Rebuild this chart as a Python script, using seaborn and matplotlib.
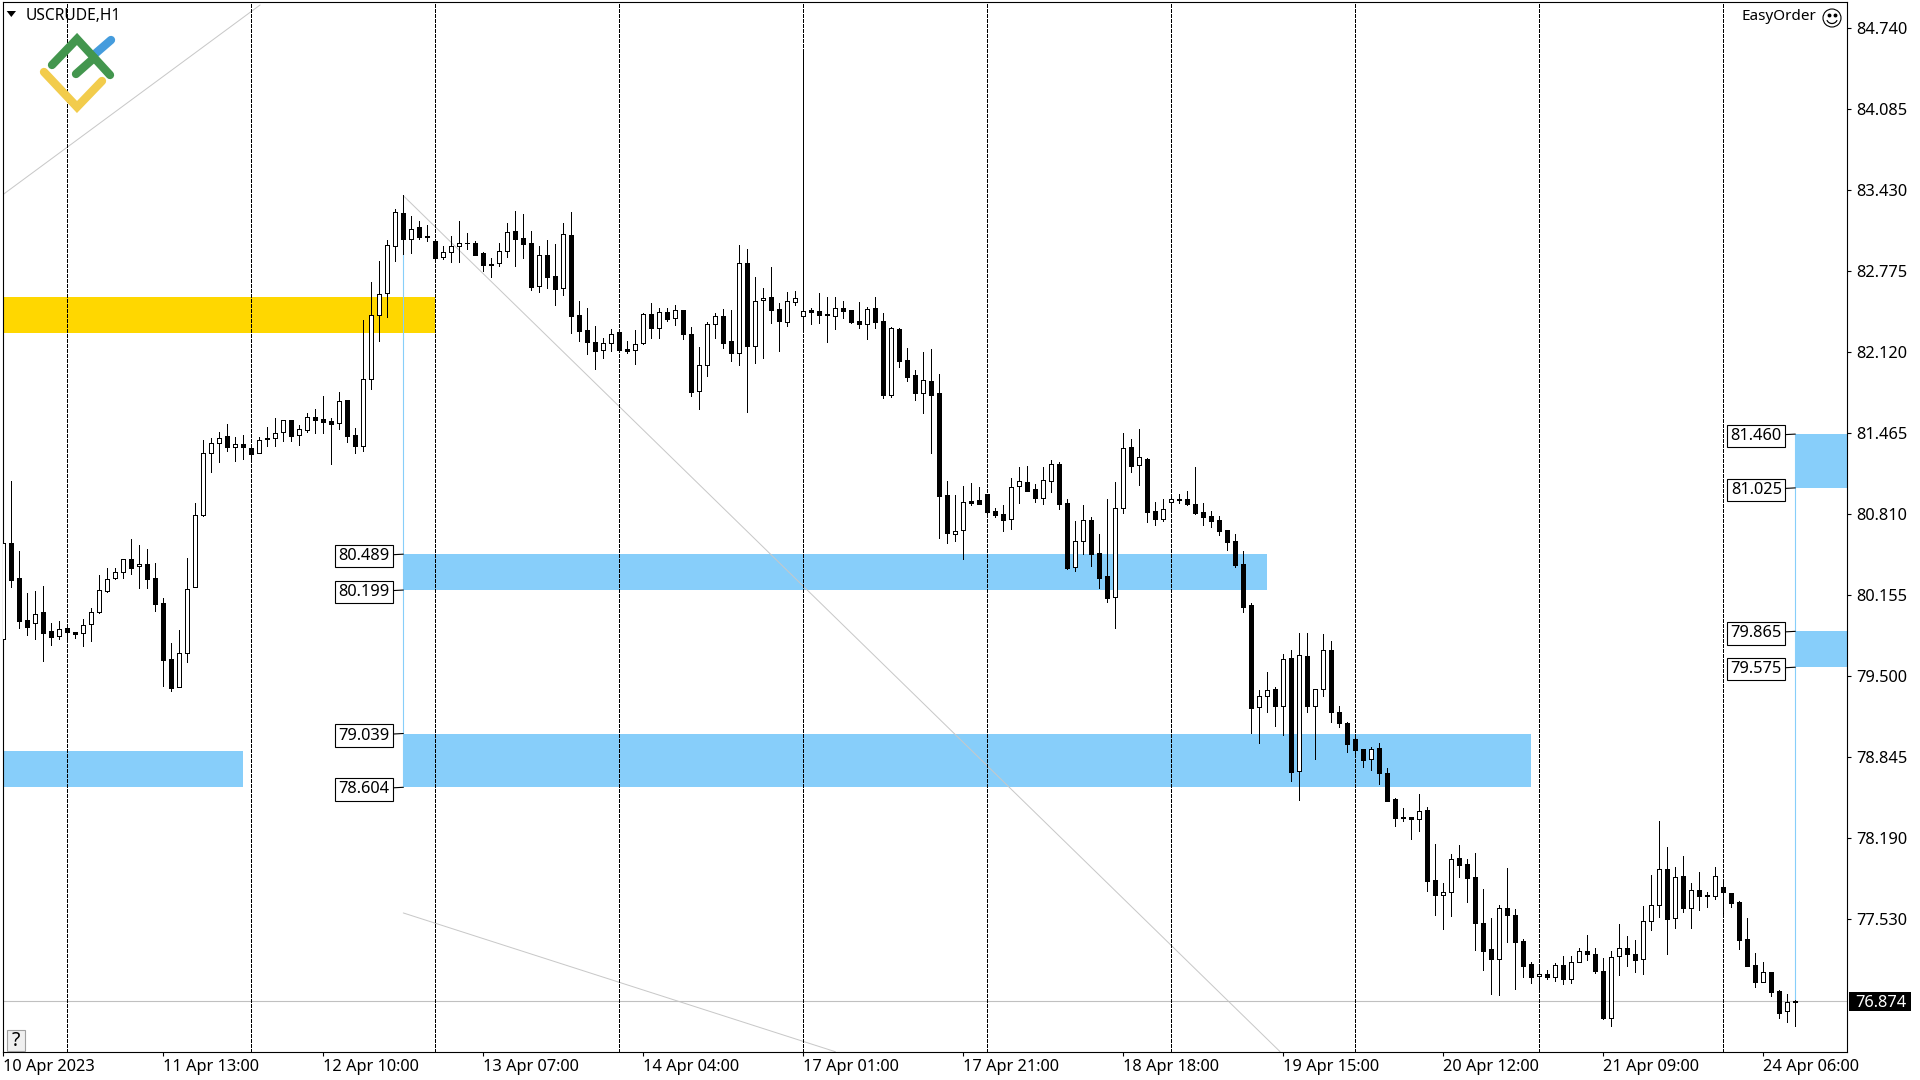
import pandas as pd
import numpy as np
import matplotlib.pyplot as plt
from matplotlib.patches import Rectangle, Polygon, Circle
import seaborn as sns

sns.set_theme(style="white")
plt.rcParams['font.family'] = ['Noto Sans', 'DejaVu Sans']

# W = close above open (hollow), B = close below open (filled)
candle_dir = ("WBBBWBBWBB" "WWWWWWBWBB" "BBWWWWWWBW" "BBWWWWBWWB" "BBWBBWWWWW"
              "BWBBBWWWWB" "BBWWBBBWBB" "WBBBBWWBBW" "WBWBWBBWWW" "BBWBWWBBWW"
              "WBBBWBBBWB" "BWBBBWBBBW" "WBBBBBWWBB" "WWBBWWBBBW" "WBWBBWWWBB"
              "BBBBBBBWWB" "WBWBWWBBBB" "BWBBBBBWBB" "WWBBBBBWBB" "BBWBWBWWBB"
              "BWWBBWWWBW" "BWBBWBBBBB" "WBBWB")

highs = [80.828, 81.081, 80.512, 80.173, 80.189, 80.230, 79.930, 79.947, 79.903, 79.858,
         79.963, 80.054, 80.318, 80.378, 80.375, 80.448, 80.609, 80.561, 80.529, 80.415,
         80.132, 79.771, 79.876, 80.456, 80.901, 81.410, 81.426, 81.475, 81.542, 81.434,
         81.450, 81.359, 81.434, 81.515, 81.588, 81.572, 81.572, 81.534, 81.628, 81.663,
         81.770, 81.588, 81.800, 81.734, 81.507, 82.383, 82.688, 82.860, 83.027, 83.278,
         83.394, 83.221, 83.181, 83.148, 83.022, 82.981, 83.060, 83.181, 83.084, 83.019,
         82.930, 82.882, 83.003, 83.165, 83.262, 83.240, 83.100, 82.981, 83.027, 82.995,
         83.165, 83.254, 82.534, 82.477, 82.332, 82.235, 82.308, 82.283, 82.211, 82.300,
         82.437, 82.518, 82.477, 82.477, 82.502, 82.461, 82.324, 82.162, 82.364, 82.437,
         82.469, 82.464, 82.987, 82.954, 82.728, 82.642, 82.809, 82.517, 82.606, 82.615,
         84.566, 82.480, 82.598, 82.566, 82.566, 82.534, 82.461, 82.526, 82.485, 82.566,
         82.437, 82.323, 82.315, 82.154, 81.976, 82.121, 82.146, 81.943, 81.078, 80.965,
         81.038, 81.062, 81.030, 80.976, 80.860, 80.884, 81.103, 81.192, 81.200, 81.054,
         81.192, 81.248, 81.232, 80.933, 80.755, 80.884, 80.787, 80.650, 80.933, 81.070,
         81.466, 81.418, 81.499, 81.264, 80.908, 80.933, 80.949, 80.973, 80.997, 81.191,
         80.900, 80.836, 80.795, 80.682, 80.650, 80.512, 80.092, 79.388, 79.534, 79.413,
         79.679, 79.712, 79.849, 79.849, 79.396, 79.841, 79.785, 79.259, 79.130, 79.014,
         78.911, 78.928, 78.960, 78.758, 78.516, 78.435, 78.362, 78.548, 78.443, 78.144,
         77.828, 78.063, 78.136, 78.022, 78.071, 77.780, 77.545, 77.651, 77.950, 77.618,
         77.376, 77.190, 77.141, 77.125, 77.182, 77.238, 77.238, 77.303, 77.408, 77.303,
         77.222, 77.279, 77.497, 77.400, 77.368, 77.643, 77.893, 78.330, 78.120, 77.958,
         78.047, 77.828, 77.917, 77.756, 77.958, 77.828, 77.748, 77.683, 77.545, 77.262,
         77.189, 77.108, 76.962, 76.930, 76.882]

body_tops = [80.583, 80.577, 80.294, 79.955, 80.009, 80.019, 79.866, 79.882, 79.890, 79.858,
             79.920, 80.025, 80.197, 80.291, 80.343, 80.448, 80.448, 80.407, 80.407, 80.294,
             80.092, 79.639, 79.693, 80.211, 80.809, 81.305, 81.391, 81.431, 81.442, 81.378,
             81.378, 81.345, 81.410, 81.431, 81.472, 81.572, 81.572, 81.499, 81.596, 81.596,
             81.580, 81.564, 81.725, 81.734, 81.450, 81.903, 82.421, 82.596, 82.987, 83.254,
             83.245, 83.122, 83.132, 83.060, 83.022, 82.930, 82.979, 83.003, 83.006, 83.003,
             82.922, 82.833, 82.938, 83.092, 83.100, 83.043, 83.003, 82.906, 82.906, 82.736,
             83.076, 83.068, 82.421, 82.300, 82.203, 82.200, 82.273, 82.283, 82.146, 82.192,
             82.429, 82.429, 82.450, 82.445, 82.467, 82.461, 82.267, 82.017, 82.348, 82.413,
             82.413, 82.211, 82.841, 82.841, 82.534, 82.558, 82.566, 82.469, 82.534, 82.558,
             82.453, 82.464, 82.453, 82.431, 82.477, 82.480, 82.461, 82.372, 82.469, 82.477,
             82.372, 82.315, 82.307, 82.057, 81.935, 81.895, 81.887, 81.790, 80.965, 80.674,
             80.909, 80.917, 80.925, 80.973, 80.836, 80.812, 81.030, 81.078, 81.070, 81.014,
             81.086, 81.216, 81.216, 80.900, 80.593, 80.763, 80.763, 80.496, 80.310, 80.860,
             81.345, 81.353, 81.272, 81.256, 80.836, 80.852, 80.933, 80.933, 80.933, 80.892,
             80.827, 80.795, 80.763, 80.682, 80.593, 80.407, 80.076, 79.340, 79.388, 79.396,
             79.639, 79.647, 79.671, 79.663, 79.396, 79.712, 79.712, 79.210, 79.122, 78.992,
             78.911, 78.911, 78.919, 78.717, 78.508, 78.362, 78.362, 78.411, 78.419, 77.853,
             77.761, 78.022, 78.031, 77.982, 77.877, 77.505, 77.295, 77.626, 77.626, 77.570,
             77.360, 77.174, 77.093, 77.093, 77.165, 77.165, 77.190, 77.279, 77.279, 77.254,
             77.117, 77.230, 77.303, 77.303, 77.254, 77.521, 77.651, 77.942, 77.942, 77.877,
             77.885, 77.772, 77.772, 77.731, 77.885, 77.796, 77.748, 77.675, 77.375, 77.165,
             77.108, 77.108, 76.954, 76.865, 76.876]

body_bottoms = [79.801, 80.281, 79.952, 79.903, 79.930, 79.855, 79.823, 79.825, 79.858, 79.847,
                79.849, 79.922, 80.025, 80.189, 80.294, 80.343, 80.380, 80.391, 80.291, 80.089,
                79.637, 79.410, 79.418, 79.688, 80.221, 80.809, 81.305, 81.386, 81.359, 81.353,
                81.359, 81.302, 81.305, 81.418, 81.426, 81.475, 81.448, 81.450, 81.491, 81.577,
                81.561, 81.545, 81.547, 81.448, 81.367, 81.367, 81.903, 82.421, 82.604, 82.979,
                83.041, 83.035, 83.057, 83.057, 82.884, 82.895, 82.930, 82.979, 83.003, 82.909,
                82.830, 82.830, 82.841, 82.938, 83.041, 83.000, 82.653, 82.655, 82.733, 82.636,
                82.639, 82.418, 82.297, 82.208, 82.135, 82.138, 82.194, 82.143, 82.135, 82.138,
                82.200, 82.321, 82.316, 82.391, 82.397, 82.273, 81.804, 81.806, 82.017, 82.348,
                82.200, 82.119, 82.119, 82.176, 82.176, 82.542, 82.466, 82.377, 82.369, 82.531,
                82.418, 82.450, 82.426, 82.420, 82.418, 82.458, 82.369, 82.353, 82.353, 82.369,
                81.779, 81.779, 82.054, 81.925, 81.795, 81.795, 81.779, 80.962, 80.663, 80.650,
                80.682, 80.906, 80.898, 80.833, 80.809, 80.768, 80.771, 81.038, 81.003, 80.946,
                80.946, 81.078, 80.898, 80.380, 80.383, 80.593, 80.493, 80.299, 80.138, 80.140,
                80.860, 81.205, 81.207, 80.833, 80.776, 80.776, 80.908, 80.930, 80.898, 80.825,
                80.792, 80.760, 80.679, 80.590, 80.404, 80.065, 79.248, 79.251, 79.340, 79.264,
                79.259, 78.731, 78.733, 79.264, 79.264, 79.396, 79.216, 79.127, 78.957, 78.909,
                78.828, 78.831, 78.720, 78.496, 78.359, 78.359, 78.351, 78.351, 77.850, 77.737,
                77.737, 77.761, 77.979, 77.874, 77.510, 77.284, 77.219, 77.214, 77.575, 77.357,
                77.163, 77.066, 77.077, 77.066, 77.068, 77.050, 77.052, 77.190, 77.252, 77.122,
                76.742, 76.737, 77.238, 77.252, 77.211, 77.214, 77.521, 77.651, 77.535, 77.545,
                77.632, 77.626, 77.721, 77.721, 77.723, 77.761, 77.672, 77.373, 77.162, 77.033,
                77.027, 76.952, 76.782, 76.793, 76.865]

lows = [79.728, 80.227, 79.893, 79.836, 79.804, 79.629, 79.755, 79.806, 79.790, 79.814,
        79.747, 79.790, 80.017, 80.186, 80.291, 80.300, 80.332, 80.216, 80.216, 80.033,
        79.426, 79.386, 79.413, 79.620, 80.221, 80.801, 81.157, 81.235, 81.324, 81.246,
        81.259, 81.246, 81.305, 81.367, 81.367, 81.405, 81.407, 81.375, 81.480, 81.472,
        81.472, 81.221, 81.504, 81.399, 81.310, 81.327, 81.825, 82.213, 82.410, 82.863,
        82.917, 82.925, 83.041, 83.022, 82.882, 82.876, 82.852, 82.852, 82.957, 82.906,
        82.782, 82.731, 82.820, 82.892, 82.820, 82.884, 82.626, 82.612, 82.642, 82.504,
        82.585, 82.278, 82.213, 82.108, 81.987, 82.079, 82.132, 82.141, 82.119, 82.027,
        82.192, 82.238, 82.238, 82.375, 82.343, 82.229, 81.769, 81.664, 81.930, 82.238,
        82.157, 82.052, 82.019, 81.639, 82.035, 82.076, 82.361, 82.132, 82.337, 82.504,
        82.302, 82.350, 82.361, 82.205, 82.310, 82.399, 82.361, 82.318, 82.229, 82.318,
        81.755, 81.763, 82.003, 81.890, 81.736, 81.631, 81.307, 80.620, 80.580, 80.596,
        80.450, 80.887, 80.898, 80.806, 80.790, 80.677, 80.693, 80.903, 81.003, 80.911,
        80.895, 80.992, 80.855, 80.372, 80.356, 80.491, 80.394, 80.216, 80.103, 79.892,
        80.822, 81.154, 81.048, 80.749, 80.725, 80.760, 80.852, 80.906, 80.887, 80.814,
        80.725, 80.709, 80.644, 80.523, 80.386, 80.022, 79.043, 78.963, 79.213, 79.100,
        79.027, 78.655, 78.502, 79.213, 78.833, 79.343, 79.132, 79.092, 78.890, 78.847,
        78.766, 78.744, 78.631, 78.496, 78.292, 78.335, 78.187, 78.252, 77.766, 77.572,
        77.459, 77.564, 77.880, 77.678, 77.289, 77.128, 76.934, 76.926, 77.354, 76.974,
        77.071, 77.023, 76.974, 77.055, 77.039, 77.015, 77.023, 77.190, 77.209, 77.103,
        76.734, 76.675, 77.087, 77.160, 77.112, 77.095, 77.451, 77.556, 77.257, 77.467,
        77.597, 77.467, 77.613, 77.637, 77.702, 77.556, 77.637, 77.298, 77.162, 76.989,
        77.027, 76.917, 76.739, 76.706, 76.674]

# zones: first bar, last bar, bottom price, top price
blue_zones = [(-0.1, 30, 78.604, 78.894),
              (50, 158, 80.199, 80.489),
              (50, 191, 78.604, 79.039),
              (224, 230.5, 81.025, 81.460),
              (224, 230.5, 79.575, 79.865)]
gold_zone = (-0.1, 54, 82.280, 82.570)

zone_labels = [(50, 80.489), (50, 80.199), (50, 79.039), (50, 78.604),
               (224, 81.460), (224, 81.025), (224, 79.865), (224, 79.575)]

price_ticks = [84.740, 84.085, 83.430, 82.775, 82.120, 81.465, 80.810, 80.155,
               79.500, 78.845, 78.190, 77.535]
price_labels = ['84.740', '84.085', '83.430', '82.775', '82.120', '81.465', '80.810',
                '80.155', '79.500', '78.845', '78.190', '77.530']
date_labels = ['10 Apr 2023', '11 Apr 13:00', '12 Apr 10:00', '13 Apr 07:00', '14 Apr 04:00',
               '17 Apr 01:00', '17 Apr 21:00', '18 Apr 18:00', '19 Apr 15:00', '20 Apr 12:00',
               '21 Apr 09:00', '24 Apr 06:00']
last_price = 76.874

df = pd.DataFrame({'bar': np.arange(len(highs)), 'high': highs, 'low': lows,
                   'top': body_tops, 'bottom': body_bottoms, 'dir': list(candle_dir)})
df['height'] = df['top'] - df['bottom']

fig = plt.figure(figsize=(19.2, 10.8), dpi=100)
ax = fig.add_axes([2.5/1920, 1 - 1051.7/1080, (1847.3 - 2.5)/1920, (1051.7 - 2)/1080])

# zones
for start, end, low, high in blue_zones:
    ax.fill_between([start, end], low, high, color='#87CEFA', lw=0, zorder=1)
ax.fill_between(gold_zone[:2], gold_zone[2], gold_zone[3], color='#FFD700', lw=0, zorder=1)

# thin trend lines
for xs, ys in [((-0.1, 32.1), (83.394, 84.93)),
               ((50, 159.6), (83.388, 76.466)),
               ((50, 104), (77.588, 76.466))]:
    ax.plot(xs, ys, color='#c8c8c8', lw=0.72, zorder=1.5)
ax.plot((50, 50), (83.3, 78.604), color='#87CEFA', lw=0.8, zorder=1.5)
ax.plot((224, 224), (81.46, last_price), color='#87CEFA', lw=0.8, zorder=1.5)
ax.axhline(last_price, color='#c0c0c0', lw=0.8, zorder=1.5)

# period separators
for b in range(8, 225, 23):
    ax.axvline(b, color='black', lw=0.72, ls=(0, (3, 2)), antialiased=False, zorder=2)

# candles
ax.vlines(df['bar'], df['low'], df['high'], color='black', lw=0.72, antialiased=False, zorder=3)
for code, fill in [('W', 'white'), ('B', 'black')]:
    part = df[df['dir'] == code]
    sns.barplot(data=part, x='bar', y='height', bottom=part['bottom'].values, native_scale=True,
                width=0.5, color=fill, saturation=1, edgecolor='black', linewidth=0.72,
                errorbar=None, antialiased=False, zorder=4, ax=ax)

# price tags next to the zones
for b, price in zone_labels:
    ax.annotate(f'{price:.3f}', xy=(b, price), xytext=(-28.1, 0), textcoords='offset points',
                ha='center', va='center_baseline', fontsize=11.8, color='black', zorder=6,
                bbox=dict(boxstyle='square,pad=0.2', fc='white', ec='black', lw=0.8),
                arrowprops=dict(arrowstyle='-', color='black', lw=0.8, shrinkA=0, shrinkB=0))

ax.set_xlim(-0.1, 230.5)
ax.set_ylim(76.466, 84.954)
ax.set_xlabel('')
ax.set_ylabel('')
ax.yaxis.tick_right()
ax.set_yticks(price_ticks, price_labels)
ax.set_xticks(np.arange(0, 221, 20), date_labels, ha='left')
ax.tick_params(axis='y', right=True, length=3, width=0.8, pad=3.6, labelsize=11.8, colors='black')
ax.tick_params(axis='x', bottom=True, length=3, width=0.8, pad=2.5, labelsize=11.8, colors='black')
for label in ax.get_yticklabels():
    label.set_va('center_baseline')
for s in ax.spines.values():
    s.set_visible(True)
    s.set_color('black')
    s.set_linewidth(0.8)

# overlay in pixels for logo, header and last price tag
ov = fig.add_axes([0, 0, 1, 1])
ov.set_xlim(0, 1920)
ov.set_ylim(1080, 0)
ov.axis('off')
ov.patch.set_alpha(0)

ov.plot([96, 111], [53, 40], color='#459CDD', lw=6, solid_capstyle='round')
ov.plot([52, 77, 110], [65, 39, 75], color='#43964E', lw=6, solid_capstyle='round', solid_joinstyle='miter')
ov.plot([76, 94], [74, 58], color='#43964E', lw=6, solid_capstyle='round')
ov.plot([44, 77, 102], [72, 107, 81], color='#F2CC4C', lw=6, solid_capstyle='round', solid_joinstyle='miter')

ov.add_patch(Polygon([(6.7, 11), (16, 11), (11.3, 17)], color='black', lw=0))
ov.text(26, 16.5, 'USCRUDE,H1', fontsize=11.2, va='center', ha='left', color='black')
ov.text(1816, 17, 'EasyOrder', fontsize=11, va='center', ha='right', color='black')
ov.add_patch(Circle((1832, 18), 9, fc='white', ec='black', lw=0.8))
ov.plot([1829, 1835], [15, 15], ls='', marker='o', ms=1.8, color='black')
smile = np.linspace(0.15, 0.85, 20) * np.pi
ov.plot(1832 + 5.5*np.cos(smile), 18 + 5.5*np.sin(smile), color='black', lw=0.9)

ov.add_patch(Rectangle((6.7, 1030), 18, 21, fc='#f0f0f0', ec='#a0a0a0', lw=0.8))
ov.text(15.7, 1041, '?', fontsize=14, va='center', ha='center', color='black')

ov.add_patch(Rectangle((1849, 992), 61.7, 18.7, fc='black', ec='black', lw=0))
ov.text(1855.7, 1001.3, f'{last_price:.3f}', fontsize=11.8, va='center_baseline', ha='left', color='white')

fig.savefig('out.png', dpi=100)
